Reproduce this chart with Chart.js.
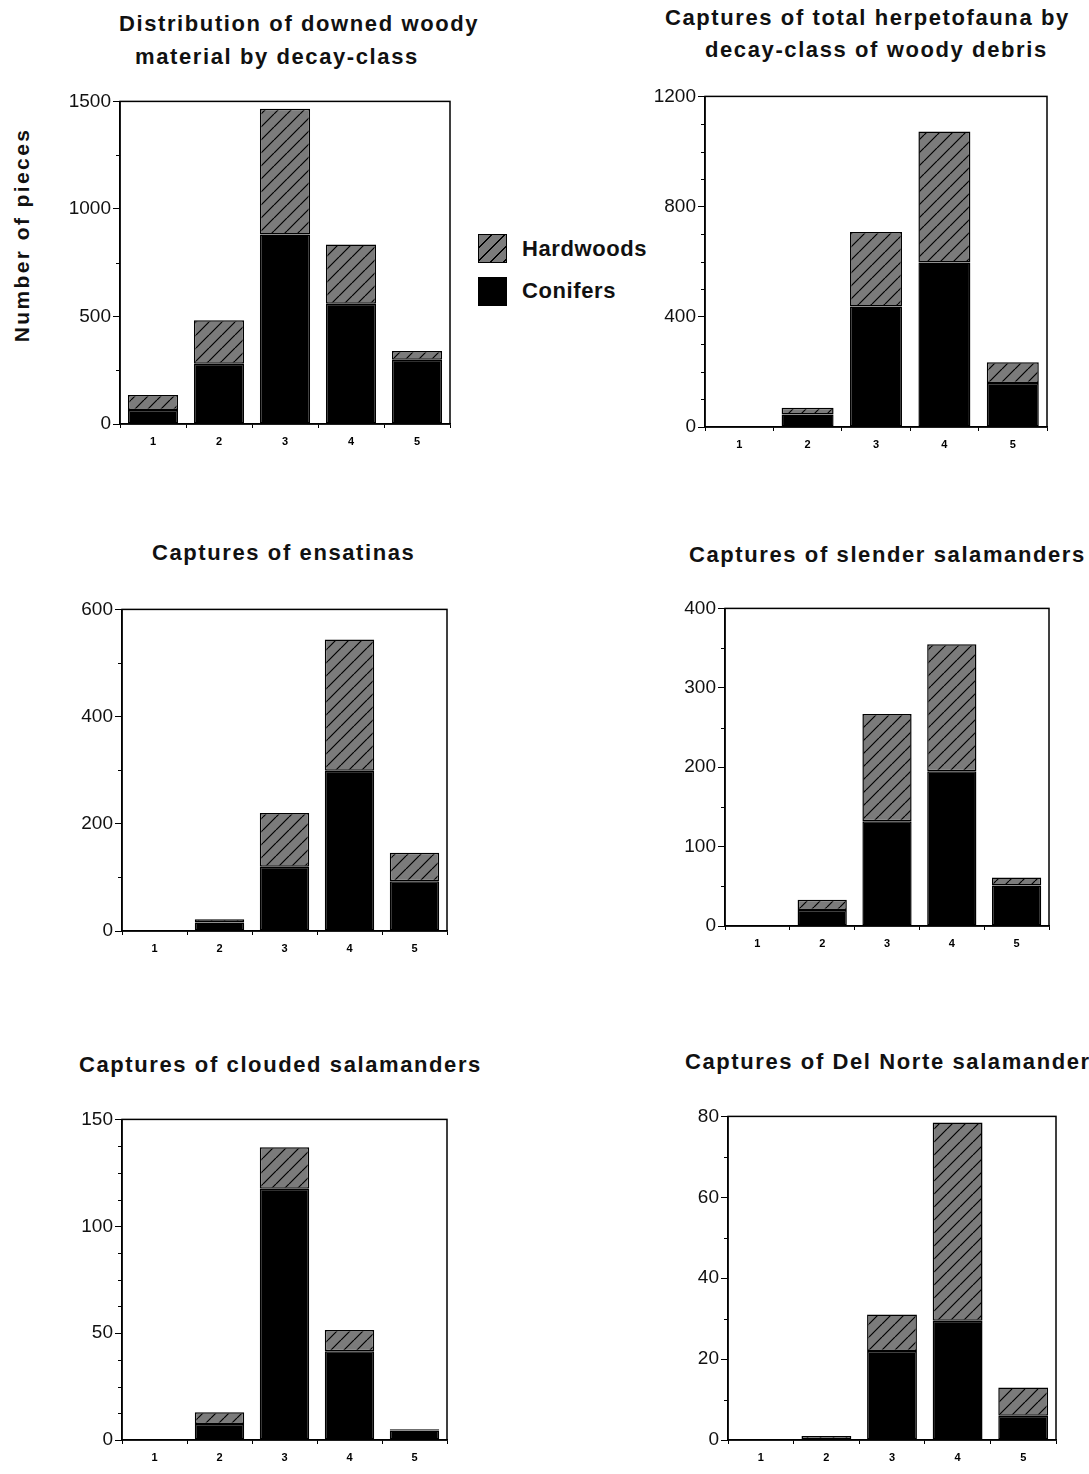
<!DOCTYPE html>
<html lang="en">
<head>
<meta charset="UTF-8">
<title>Downed woody material and herpetofauna captures by decay-class</title>
<script src="https://cdn.jsdelivr.net/npm/chart.js@4"></script>
<style>
  body {
    margin: 0;
    width: 1089px;
    height: 1474px;
    position: relative;
    overflow: hidden;
    background: #fff;
    font-family: "Liberation Sans", Arial, Helvetica, sans-serif;
    color: #111;
  }
  canvas { position: absolute; }
  .title {
    position: absolute;
    font-weight: bold;
    font-size: 22px;
    letter-spacing: 1.6px;
    line-height: 22px;
    white-space: nowrap;
  }
  #yTitle {
    position: absolute;
    left: 22px;
    top: 235px;
    font-weight: bold;
    font-size: 21px;
    letter-spacing: 2.4px;
    white-space: nowrap;
    transform: translate(-50%, -50%) rotate(-90deg);
  }
  .swatch {
    position: absolute;
    left: 478px;
    width: 27px;
    height: 27px;
    border: 1px solid #000;
  }
  .hatch {
    background: repeating-linear-gradient(135deg, #7b7b7b 0 8px, #000 8px 9.2px);
  }
  .legendText {
    position: absolute;
    left: 522px;
    font-weight: bold;
    font-size: 22px;
    letter-spacing: 0.6px;
    line-height: 22px;
  }
</style>
</head>
<body>

<!-- Titles -->
<div class="title" style="left:119px; top:13px;">Distribution of downed woody</div>
<div class="title" style="left:135px; top:46px;">material by decay-class</div>
<div class="title" style="left:665px; top:7px;">Captures of total herpetofauna by</div>
<div class="title" style="left:705px; top:39px;">decay-class of woody debris</div>
<div class="title" style="left:152px; top:542px;">Captures of ensatinas</div>
<div class="title" style="left:689px; top:544px;">Captures of slender salamanders</div>
<div class="title" style="left:79px; top:1054px;">Captures of clouded salamanders</div>
<div class="title" style="left:685px; top:1051px;">Captures of Del Norte salamanders</div>

<div id="yTitle">Number of pieces</div>

<!-- Legend -->
<div class="swatch hatch" style="top:234px;"></div>
<div class="legendText" style="top:238px;">Hardwoods</div>
<div class="swatch" style="top:277px; background:#000;"></div>
<div class="legendText" style="top:280px;">Conifers</div>

<script>
  // decay classes on the x axis
  const decayClasses = ['1', '2', '3', '4', '5'];

  // downed woody material (number of pieces)
  const woodyConifers = [65, 280, 881, 559, 299];
  const woodyHardwoods = [70, 202, 585, 276, 40];

  // total herpetofauna captures
  const herpConifers = [2, 45, 437, 597, 160];
  const herpHardwoods = [1, 25, 271, 476, 75];

  // ensatinas
  const ensatinaConifers = [1, 16, 120, 299, 93];
  const ensatinaHardwoods = [1, 6, 100, 245, 53];

  // slender salamanders
  const slenderConifers = [1, 20, 132, 195, 51];
  const slenderHardwoods = [0, 13, 135, 160, 10];

  // clouded salamanders
  const cloudedConifers = [0, 7.5, 117.5, 41.5, 4.5];
  const cloudedHardwoods = [0, 5.5, 19.5, 10, 0.5];

  // Del Norte salamanders
  const delNorteConifers = [0, 0, 22, 29.5, 6];
  const delNorteHardwoods = [0, 1, 9, 49, 7];

  // y axis: top value, labelled step, small tick step
  const yMaxima = [1500, 1200, 600, 400, 150, 80];
  const majorSteps = [500, 400, 200, 100, 50, 20];
  const minorSteps = [250, 100, 100, 50, 12.5, 10];

  const FONT = '"Liberation Sans", Arial, Helvetica, sans-serif';

  // plot areas (left, top, right, bottom) on the page
  const plotBoxes = [
    [120, 100, 450, 424],
    [705, 95, 1047, 427],
    [122, 608, 447, 931],
    [725, 607, 1049, 926],
    [122, 1118, 447, 1440],
    [728, 1115, 1056, 1440]
  ];

  const seriesPairs = [
    [woodyConifers, woodyHardwoods],
    [herpConifers, herpHardwoods],
    [ensatinaConifers, ensatinaHardwoods],
    [slenderConifers, slenderHardwoods],
    [cloudedConifers, cloudedHardwoods],
    [delNorteConifers, delNorteHardwoods]
  ];

  // grey fill with black "/" lines
  function makeHatch() {
    const s = 13;
    const c = document.createElement('canvas');
    c.width = s;
    c.height = s;
    const g = c.getContext('2d');
    g.fillStyle = '#7b7b7b';
    g.fillRect(0, 0, s, s);
    g.strokeStyle = '#000';
    g.lineWidth = 1.2;
    g.beginPath();
    [-s, 0, s].forEach(x0 => {
      g.moveTo(x0, s);
      g.lineTo(x0 + s, 0);
    });
    g.stroke();
    return g.createPattern(c, 'repeat');
  }
  const hatch = makeHatch();

  // box round the plot area and the small unlabelled ticks
  const framePlugin = {
    id: 'frame',
    afterDraw(chart, args, opts) {
      const ctx = chart.ctx;
      const a = chart.chartArea;
      const y = chart.scales.y;
      ctx.save();
      ctx.strokeStyle = '#000';
      ctx.lineWidth = 1;
      ctx.beginPath();
      for (let v = opts.minor; v < opts.max; v += opts.minor) {
        if (Math.abs(v / opts.major - Math.round(v / opts.major)) < 1e-6) continue;
        const py = Math.round(y.getPixelForValue(v)) + 0.5;
        ctx.moveTo(a.left - 4, py);
        ctx.lineTo(a.left, py);
      }
      ctx.stroke();
      ctx.lineWidth = 1.5;
      ctx.strokeRect(a.left, a.top, a.right - a.left, a.bottom - a.top);
      ctx.restore();
    }
  };

  function buildPanel(box, i) {
    const [l, t, r, b] = box;
    const canvas = document.createElement('canvas');
    canvas.width = r - l + 92;
    canvas.height = b - t + 52;
    canvas.style.left = (l - 80) + 'px';
    canvas.style.top = (t - 12) + 'px';
    document.body.appendChild(canvas);

    const [conifers, hardwoods] = seriesPairs[i];
    const barStyle = {
      borderColor: '#000',
      borderWidth: 1.5,
      borderSkipped: false,
      barPercentage: 0.76,
      categoryPercentage: 1
    };

    new Chart(canvas, {
      type: 'bar',
      data: {
        labels: decayClasses,
        datasets: [
          Object.assign({ label: 'Conifers', data: conifers, backgroundColor: '#000' }, barStyle),
          Object.assign({ label: 'Hardwoods', data: hardwoods, backgroundColor: hatch }, barStyle)
        ]
      },
      options: {
        responsive: false,
        animation: false,
        events: [],
        devicePixelRatio: 1,
        layout: { padding: { top: 12, right: 12, bottom: 10, left: 0 } },
        plugins: {
          legend: { display: false },
          tooltip: { enabled: false },
          frame: { max: yMaxima[i], major: majorSteps[i], minor: minorSteps[i] }
        },
        scales: {
          x: {
            stacked: true,
            offset: true,
            grid: { offset: true, drawOnChartArea: false, tickLength: 4, color: '#000' },
            border: { color: '#000', width: 1.5 },
            ticks: { color: '#000', padding: 7, font: { family: FONT, size: 11, weight: 'bold' } },
            afterFit: s => { s.height = 30; }
          },
          y: {
            stacked: true,
            min: 0,
            max: yMaxima[i],
            grid: { drawOnChartArea: false, tickLength: 7, color: '#000' },
            border: { color: '#000', width: 1.5 },
            ticks: {
              stepSize: majorSteps[i],
              color: '#111',
              padding: 2,
              font: { family: FONT, size: 19 },
              callback: v => String(v)
            },
            afterFit: s => { s.width = 80; }
          }
        }
      },
      plugins: [framePlugin]
    });
  }

  plotBoxes.forEach(buildPanel);
</script>
</body>
</html>
